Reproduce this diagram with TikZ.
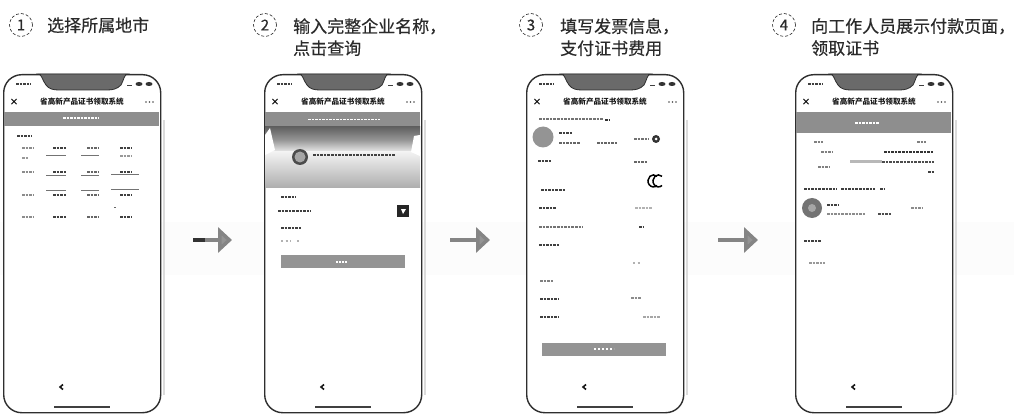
\documentclass[tikz,border=0pt]{standalone}
\usepackage{fontspec}
\setmainfont{Noto Sans CJK SC}
\newfontfamily\headfont[FakeBold=0.35]{Noto Sans CJK SC}
\usetikzlibrary{arrows.meta,shadings}
\definecolor{ink}{HTML}{2A2A2A}
\definecolor{frame}{HTML}{2E2E2E}
\definecolor{bar}{HTML}{8E8E8E}
\definecolor{notch}{HTML}{6A6A6A}
\tikzset{
  x=1pt,y=-1pt,
  steptext/.style={font=\headfont\fontsize{17}{22}\selectfont,text=ink,anchor=north west,inner sep=0pt,align=left},
  stepnum/.style={circle,draw=ink,densely dashed,line width=.6pt,minimum size=23pt,inner sep=0pt,font=\headfont\fontsize{15}{15}\selectfont,text=ink},
  phonebody/.style={draw=frame,line width=1.4pt,fill=white,rounded corners=18pt,minimum width=157pt,minimum height=338pt,anchor=north west,inner sep=0pt},
  apptitle/.style={font=\fontsize{7.6}{8}\bfseries\selectfont,text=black!90,inner sep=0pt},
  closeicon/.style={font=\fontsize{9}{9}\bfseries\selectfont,text=black,inner sep=0pt},
  blob/.style={line width=2.5pt,dash pattern=on 2.6pt off 1pt,draw=black!75},
  faint/.style={line width=1.8pt,dash pattern=on 2pt off 2.5pt,draw=black!30},
  btnbar/.style={fill=black!42,draw=none},
  shaft/.style={line width=3.6pt,draw=black!48,-{Triangle[length=14pt,width=25pt,fill=black!42]}},
}
\newcommand{\phonepic}[2]{%
  \draw[black!14,line width=2pt] (#2+161,120) -- (#2+161,395);
  \node[phonebody] (#1) at (#2,74) {};
  \begin{scope}[shift={(#2,0)}]
    \fill[notch,draw=frame,line width=.8pt] (35,74) .. controls (39,74) and (39,80) .. (43,85) .. controls (46,89) and (50,90) .. (56,90) -- (104,90) .. controls (110,90) and (114,89) .. (118,85) .. controls (121,80) and (121,74) .. (125,74) -- cycle;
    \draw[blob,line width=2.6pt] (13,84) -- ++(15,0);
    \draw[line width=1.6pt,black!75] (124,85.5) -- ++(5,0);
    \fill[black!80] (136,84) ellipse (3.5 and 2);
    \fill[black!80] (146,84) ellipse (3.5 and 2);
    \node[closeicon] (#1x) at (11,102) {×};
    \node[apptitle] (#1t) at (79,102) {省高新产品证书领取系统};
    \fill[black!70] (143,102) circle (.8) (146.5,102) circle (.8) (150,102) circle (.8);
    \draw[line width=1.6pt,black!90] (60,384.5) -- (57,387) -- (60,389.5);
    \draw[line width=1.7pt,black!75] (51,407) -- ++(56,0);
  \end{scope}}
\begin{document}
\begin{tikzpicture}
\useasboundingbox (0,0) rectangle (1014,414);
\fill[white] (0,0) rectangle (1014,414);
% soft scan tints
\fill[black!1] (0,222) rectangle (1014,275);
% step headings
\node[stepnum] (n1) at (21,25) {1};
\node[stepnum] (n2) at (265,25) {2};
\node[stepnum] (n3) at (531,25) {3};
\node[stepnum] (n4) at (784,25) {4};
\node[steptext] (s1) at (47,17) {选择所属地市};
\node[steptext] (s2) at (293,18) {输入完整企业名称，\\点击查询};
\node[steptext] (s3) at (560,18) {填写发票信息，\\支付证书费用};
\node[steptext] (s4) at (811,18) {向工作人员展示付款页面，\\领取证书};
% phones
\phonepic{p1}{3}
\phonepic{p2}{264}
\phonepic{p3}{526}
\phonepic{p4}{795}
% phone 1
\begin{scope}[shift={(3,0)}]
  \fill[bar] (1,112) rectangle (156,126);
  \draw[white,line width=2pt,dash pattern=on 2.5pt off 1pt] (60,118.5) -- ++(36,0);
  \draw[blob] (14,136) -- ++(15,0);
  \foreach \yy in {148,172,195,217}{
    \draw[blob,black!45] (19,\yy) -- ++(12,0);
    \draw[blob] (50,\yy) -- ++(14,0);
    \draw[blob,black!60] (84,\yy) -- ++(12,0);
    \draw[blob] (117,\yy) -- ++(12,0);
  }
  \foreach \yy in {155,175,190}{
    \draw[line width=.9pt,black!55] (43,\yy) -- ++(20,0);
    \draw[line width=.9pt,black!55] (78,\yy) -- ++(18,0);
  }
  \draw[line width=.9pt,black!55] (108,174) -- ++(28,0) (108,189) -- ++(28,0);
  \draw[blob,black!40] (19,158) -- ++(6,0);
  \draw[blob,black!40] (117,156) -- ++(12,0);
  \draw[blob,black!60] (112,207) -- (112,207.1);
\end{scope}
% phone 2
\begin{scope}[shift={(264,0)}]
  \fill[bar] (1,112) rectangle (156,127);
  \draw[white,line width=1.8pt,dash pattern=on 2.5pt off 1pt] (44,119.5) -- ++(72,0);
  \shade[top color=black!62,bottom color=black!8,middle color=black!42] (1,127) rectangle (156,152);
  \shade[top color=black!5,bottom color=black!32] (1,152) rectangle (156,188);
  \fill[white] (1,135) -- (6,128) -- (11,150) -- (1,155) -- cycle;
  \fill[white] (156,135) -- (150,136) -- (147,152) -- (156,156) -- cycle;
  \fill[black!70] (36,157) circle (8);
  \fill[black!35] (36,157) circle (5.5);
  \draw[blob] (49,155) -- ++(82,0);
  \draw[blob] (17,197) -- ++(15,0);
  \draw[blob] (14,211) -- ++(33,0);
  \fill[black!85] (133,205) rectangle (145,217);
  \fill[white] (137,209) -- (142,209) -- (139,214) -- cycle;
  \draw[blob] (17,228) -- ++(20,0);
  \draw[faint] (17,241) -- ++(10,0) (33,241) -- ++(4,0);
  \fill[btnbar] (17,255) rectangle (141,268);
  \draw[white,line width=1.2pt,dash pattern=on 2pt off 1pt] (72,262) -- ++(11,0);
\end{scope}
% phone 3
\begin{scope}[shift={(526,0)}]
  \draw[blob,black!55] (13,119) -- ++(64,0);
  \draw[blob,black!80] (79,120) -- ++(4,0);
  \fill[black!42] (17,137) circle (10.5);
  \draw[blob] (33,133) -- ++(14,0);
  \draw[blob,black!60] (33,143) -- ++(21,0) (71,143) -- ++(20,0);
  \draw[blob,black!55] (108,139) -- ++(15,0);
  \fill[black!80] (130,139) circle (4);
  \fill[white] (130,139) circle (1.5);
  \draw[blob] (12,161) -- ++(13,0);
  \draw[blob,black!60] (108,162) -- ++(14,0);
  \draw[blob] (15,190) -- ++(25,0);
  \draw[line width=1.5pt,black] (131,185.5) arc (50:310:5.5 and 6);
  \draw[line width=1.5pt,black] (136,185.5) arc (50:310:5.5 and 6);
  \draw[blob] (13,208) -- ++(18,0);
  \draw[blob,black!30] (109,208) -- ++(18,0);
  \draw[blob,black!55] (13,227) -- ++(44,0);
  \draw[blob] (113,227) -- ++(5,0);
  \draw[blob] (13,245) -- ++(20,0);
  \draw[faint] (107,263) -- ++(7,0);
  \draw[blob,black!50] (14,281) -- ++(14,0);
  \draw[blob] (14,299) -- ++(19,0);
  \draw[blob,black!45] (105,298) -- ++(10,0);
  \draw[blob] (14,317) -- ++(19,0);
  \draw[blob,black!35] (117,317) -- ++(18,0);
  \fill[btnbar] (16,343) rectangle (140,356);
  \draw[white,line width=1.2pt,dash pattern=on 2pt off 2pt] (68,349) -- ++(20,0);
\end{scope}
% phone 4
\begin{scope}[shift={(795,0)}]
  \fill[bar] (1,112) rectangle (156,133);
  \draw[white,line width=2pt,dash pattern=on 2.5pt off 1pt] (60,123) -- ++(24,0);
  \fill[white] (6,134) rectangle (150,250);
  \draw[blob,black!50] (19,142) -- ++(9,0);
  \draw[blob,black!50] (122,142) -- ++(9,0);
  \draw[blob,black!50] (26,152) -- ++(12,0);
  \draw[blob,black!80] (89,152) -- ++(50,0);
  \draw[blob,black!50] (23,167) -- ++(12,0);
  \draw[line width=3pt,black!28] (55,162) -- ++(32,0);
  \draw[blob,black!70] (87,162) -- ++(52,0);
  \draw[blob] (133,172) -- ++(6,0);
  \draw[blob] (9,189) -- ++(33,0) (46,189) -- ++(34,0);
  \draw[blob] (85,189) -- ++(5,0);
  \fill[black!55] (17,208) circle (10);
  \fill[black!35] (17,208) circle (4);
  \draw[blob] (32,205) -- ++(12,0);
  \draw[blob,black!45] (32,214) -- ++(38,0);
  \draw[blob,black!70] (83,214) -- ++(13,0);
  \draw[blob,black!45] (116,208) -- ++(11,0);
  \draw[blob] (9,241) -- ++(17,0);
  \draw[blob,black!40] (14,263) -- ++(16,0);
\end{scope}
% arrows between the phones
\coordinate (a1s) at (193,240); \coordinate (a1e) at (232,240);
\coordinate (a2s) at (450,240); \coordinate (a2e) at (490,240);
\coordinate (a3s) at (718,240); \coordinate (a3e) at (758,240);
\draw[shaft] (a1s) -- (a1e);
\draw[shaft] (a2s) -- (a2e);
\draw[shaft] (a3s) -- (a3e);
\draw[line width=3.6pt,black!80] (a1s) -- ++(12,0);
\end{tikzpicture}
\end{document}
